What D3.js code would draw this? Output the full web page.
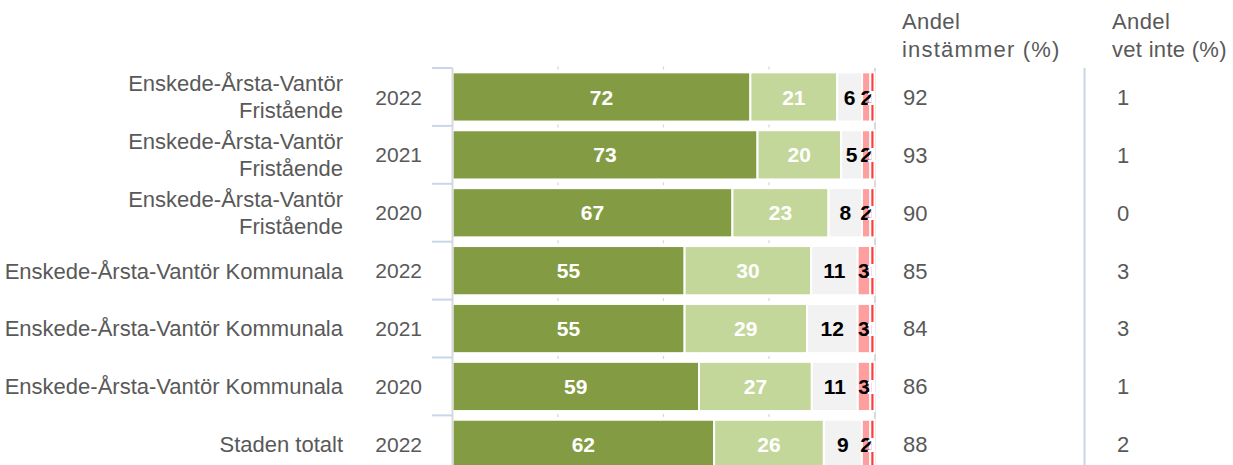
<!DOCTYPE html>
<html>
<head>
<meta charset="utf-8">
<script src="https://cdn.jsdelivr.net/npm/d3@7"></script>
<style>
  html, body { margin: 0; padding: 0; background: #fff; }
  svg { display: block; font-family: "Liberation Sans", Arial, sans-serif; }
</style>
</head>
<body>
<svg id="chart" width="1233" height="465"></svg>
<script>
// ---- data ----
const unitLines = [
  ["Enskede-Årsta-Vantör", "Fristående"],
  ["Enskede-Årsta-Vantör", "Fristående"],
  ["Enskede-Årsta-Vantör", "Fristående"],
  ["Enskede-Årsta-Vantör Kommunala"],
  ["Enskede-Årsta-Vantör Kommunala"],
  ["Enskede-Årsta-Vantör Kommunala"],
  ["Staden totalt"]
];
const years = ["2022", "2021", "2020", "2022", "2021", "2020", "2022"];
const seriesKeys = ["Instämmer helt", "Instämmer delvis", "Neutral", "Instämmer delvis inte", "Instämmer inte alls"];
const instammerHelt   = [72, 73, 67, 55, 55, 59, 62];
const instammerDelvis = [21, 20, 23, 30, 29, 27, 26];
const neutral         = [6, 5, 8, 11, 12, 11, 9];
const delvisInte      = [2, 2, 2, 3, 3, 3, 2];
const inteAlls        = [1, 1, 1, 1, 1, 1, 1];
const andelInstammer  = [92, 93, 90, 85, 84, 86, 88];
const andelVetInte    = [1, 1, 0, 3, 3, 1, 2];
const headerInstammer = ["Andel", "instämmer (%)"];
const headerVetInte   = ["Andel", "vet inte (%)"];
const gridTicks = [0.25, 0.5, 0.75];

// ---- build table ----
const rows = years.map((yr, i) => ({
  idx: i,
  [seriesKeys[0]]: instammerHelt[i],
  [seriesKeys[1]]: instammerDelvis[i],
  [seriesKeys[2]]: neutral[i],
  [seriesKeys[3]]: delvisInte[i],
  [seriesKeys[4]]: inteAlls[i]
}));

const colors = ["#839c44", "#c4d79b", "#f2f2f2", "#ff9e9e", "#ff3d3d"];
const labelColors = ["#ffffff", "#ffffff", "#000000", "#000000", "#ffffff"];

const svg = d3.select("#chart");
const x0 = 452.5, x1 = 874.5;
const topY = 68, stepY = 57.9;

const x = d3.scaleLinear().domain([0, 1]).range([x0, x1]);
const y = d3.scaleBand()
  .domain(d3.range(years.length))
  .range([topY, topY + stepY * years.length])
  .paddingInner(0.15)
  .paddingOuter(0.075);

const stack = d3.stack().keys(seriesKeys).offset(d3.stackOffsetExpand);
const stacked = stack(rows);

// grid marks (visible only in gaps between bars)
const boundaries = d3.range(years.length + 1).map(i => topY + i * y.step());
const gm = svg.append("g");
gridTicks.forEach(t => {
  boundaries.forEach(b => {
    gm.append("line")
      .attr("x1", x(t)).attr("x2", x(t))
      .attr("y1", b - 1.5).attr("y2", b + 1.5)
      .attr("stroke", "#d6d6d6").attr("stroke-width", 1.2);
  });
});

// 100% line
svg.append("line")
  .attr("x1", x(1) + 0.5).attr("x2", x(1) + 0.5)
  .attr("y1", topY).attr("y2", 465)
  .attr("stroke", "#d9d9d9").attr("stroke-width", 2);

// bars
const layers = svg.append("g").selectAll("g")
  .data(stacked).join("g")
  .attr("fill", (d, i) => colors[i]);

layers.selectAll("rect")
  .data(d => d.map(v => ({ v, row: v.data.idx })))
  .join("rect")
  .attr("x", d => x(d.v[0]))
  .attr("y", d => y(d.row))
  .attr("width", d => Math.max(0, x(d.v[1]) - x(d.v[0])))
  .attr("height", y.bandwidth())
  .attr("stroke", "#ffffff")
  .attr("stroke-width", 2);

// bar labels
stacked.forEach((layer, si) => {
  svg.append("g").selectAll("text")
    .data(layer).join("text")
    .attr("x", d => (x(d[0]) + x(d[1])) / 2)
    .attr("y", d => y(d.data.idx) + y.bandwidth() / 2)
    .attr("dy", "0.36em")
    .attr("text-anchor", "middle")
    .attr("font-size", 21)
    .attr("font-weight", "bold")
    .attr("fill", labelColors[si])
    .text(d => d.data[seriesKeys[si]]);
});

// left axis line
svg.append("line")
  .attr("x1", x0).attr("x2", x0)
  .attr("y1", topY).attr("y2", 465)
  .attr("stroke", "#d9d9d9").attr("stroke-width", 2);

// category boundary ticks
svg.append("g").selectAll("line")
  .data(boundaries).join("line")
  .attr("x1", 432).attr("x2", x0)
  .attr("y1", d => d).attr("y2", d => d)
  .attr("stroke", "#c9d6ea").attr("stroke-width", 2);

// category labels
const textColor = "#595959";
const cat = svg.append("g");
unitLines.forEach((lines, i) => {
  const cy = y(i) + y.bandwidth() / 2;
  const lh = 27;
  const startY = cy - (lines.length - 1) * lh / 2;
  const t = cat.append("text")
    .attr("text-anchor", "end")
    .attr("font-size", 22)
    .attr("fill", textColor);
  lines.forEach((ln, j) => {
    t.append("tspan")
      .attr("x", 343)
      .attr("y", startY + j * lh)
      .attr("dy", "0.36em")
      .text(ln);
  });
  cat.append("text")
    .attr("x", 422)
    .attr("y", cy)
    .attr("dy", "0.36em")
    .attr("text-anchor", "end")
    .attr("font-size", 21)
    .attr("fill", textColor)
    .text(years[i]);
});

// right separator line
svg.append("line")
  .attr("x1", 1084.5).attr("x2", 1084.5)
  .attr("y1", topY).attr("y2", 465)
  .attr("stroke", "#c9d6ea").attr("stroke-width", 2);

// headers
function header(lines, xp, ls) {
  const t = svg.append("text")
    .attr("font-size", 22)
    .attr("fill", textColor);
  lines.forEach((ln, j) => {
    t.append("tspan").attr("x", xp).attr("y", 29 + j * 28)
      .attr("letter-spacing", ls[j]).text(ln);
  });
}
header(headerInstammer, 902, [0.4, 1.2]);
header(headerVetInte, 1112, [0.4, 0.3]);

// right columns
svg.append("g").selectAll("text")
  .data(andelInstammer).join("text")
  .attr("x", 903)
  .attr("y", (d, i) => y(i) + y.bandwidth() / 2)
  .attr("dy", "0.36em")
  .attr("font-size", 22)
  .attr("fill", textColor)
  .text(d => d);

svg.append("g").selectAll("text")
  .data(andelVetInte).join("text")
  .attr("x", 1117)
  .attr("y", (d, i) => y(i) + y.bandwidth() / 2)
  .attr("dy", "0.36em")
  .attr("font-size", 22)
  .attr("fill", textColor)
  .text(d => d);
</script>
</body>
</html>
